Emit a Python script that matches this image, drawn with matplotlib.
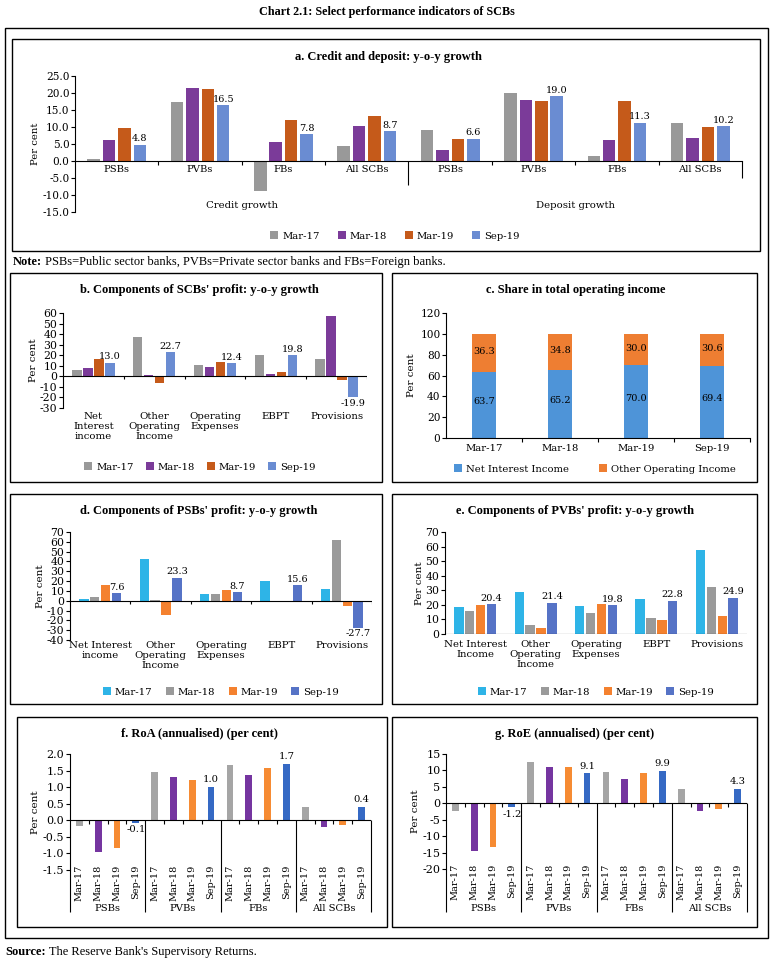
import matplotlib
matplotlib.use('Agg')
import matplotlib.pyplot as plt
import matplotlib.transforms as mtrans
from matplotlib.patches import Rectangle
from matplotlib.ticker import FormatStrFormatter
import numpy as np

plt.rcParams['font.family'] = ['DejaVu Serif']
plt.rcParams['axes.unicode_minus'] = False
TITLE_FONT = ['Liberation Serif', 'DejaVu Serif']

W, H = 773, 968

periods = ['Mar-17', 'Mar-18', 'Mar-19', 'Sep-19']
banks = ['PSBs', 'PVBs', 'FBs', 'All SCBs']

# a. credit (first 4) and deposit (last 4) growth
a_cats = banks + banks
a_mar17 = [0.7, 17.5, -8.8, 4.4, 9.2, 20.1, 1.5, 11.1]
a_mar18 = [6.1, 21.5, 5.7, 10.2, 3.3, 17.8, 6.3, 6.8]
a_mar19 = [9.6, 21.1, 12.0, 13.2, 6.5, 17.6, 17.7, 10.0]
a_sep19 = [4.8, 16.5, 7.8, 8.7, 6.6, 19.0, 11.3, 10.2]

# b. components of SCBs' profit
b_cats = ['Net\nInterest\nincome', 'Other\nOperating\nIncome', 'Operating\nExpenses', 'EBPT', 'Provisions']
b_mar17 = [6.2, 37.0, 10.9, 20.2, 16.5]
b_mar18 = [7.8, 1.0, 9.0, 2.2, 56.8]
b_mar19 = [16.5, -6.5, 13.4, 4.3, -3.4]
b_sep19 = [13.0, 22.7, 12.4, 19.8, -19.9]

# c. share in total operating income
c_nii = [63.7, 65.2, 70.0, 69.4]
c_ooi = [36.3, 34.8, 30.0, 30.6]

# d. components of PSBs' profit
d_cats = ['Net Interest\nincome', 'Other\nOperating\nIncome', 'Operating\nExpenses', 'EBPT', 'Provisions']
d_mar17 = [1.4, 42.0, 7.1, 20.0, 11.5]
d_mar18 = [3.4, 0.7, 6.4, -1.4, 62.0]
d_mar19 = [16.3, -14.2, 10.5, -1.0, -5.1]
d_sep19 = [7.6, 23.3, 8.7, 15.6, -27.7]

# e. components of PVBs' profit
e_cats = ['Net Interest\nIncome', 'Other\nOperating\nIncome', 'Operating\nExpenses', 'EBPT', 'Provisions']
e_mar17 = [18.3, 28.6, 19.3, 23.8, 57.6]
e_mar18 = [16.0, 6.3, 14.4, 11.0, 32.0]
e_mar19 = [19.6, 4.2, 20.8, 9.4, 12.5]
e_sep19 = [20.4, 21.4, 19.8, 22.8, 24.9]

# f. RoA, per bank group
f_mar17 = [-0.16, 1.46, 1.66, 0.39]
f_mar18 = [-0.95, 1.30, 1.36, -0.19]
f_mar19 = [-0.85, 1.21, 1.58, -0.13]
f_sep19 = [-0.07, 1.0, 1.7, 0.4]

# g. RoE, per bank group
g_mar17 = [-2.4, 12.6, 9.4, 4.4]
g_mar18 = [-14.4, 11.0, 7.3, -2.3]
g_mar19 = [-13.2, 11.0, 9.1, -1.7]
g_sep19 = [-1.2, 9.1, 9.9, 4.3]

ab_colors = ['#999999', '#7B3B99', '#C55A1A', '#6A8CD2']
de_colors = ['#2EB4E7', '#9A9A9A', '#F4812F', '#5673C6']
c_colors = ['#4E94D8', '#EE7E32']
fg_colors = ['#A5A5A5', '#7535A0', '#F68B33', '#3569C4']

fig = plt.figure(figsize=(W / 100, H / 100), dpi=100)
bg = fig.add_axes([0, 0, 1, 1])
bg.set_xlim(0, W)
bg.set_ylim(H, 0)
bg.axis('off')


def box(x0, y0, x1, y1, lw=1.0):
    bg.add_patch(Rectangle((x0, y0), x1 - x0, y1 - y0, fill=False, ec='black', lw=lw))


def panel_axes(x0, y0, x1, y1):
    ax = fig.add_axes([x0 / W, 1 - y1 / H, (x1 - x0) / W, (y1 - y0) / H])
    ax.patch.set_alpha(0)
    for s in ['top', 'right', 'bottom']:
        ax.spines[s].set_visible(False)
    ax.spines['left'].set_linewidth(0.8)
    ax.tick_params(axis='y', direction='out', length=3, width=0.8, labelsize=7.8, pad=1)
    return ax


def grouped(ax, series, colors, width, step):
    x = np.arange(len(series[0]))
    for j, (vals, c) in enumerate(zip(series, colors)):
        ax.bar(x + (j - 1.5) * step, vals, width, color=c, label=periods[j], zorder=2)
    return x


def sep_labels(ax, xpos, vals, fmt, size=7, off=1):
    for xx, v in zip(xpos, vals):
        ax.annotate(fmt % v, (xx, v), xytext=(0, off if v >= 0 else -off),
                    textcoords='offset points', ha='center',
                    va='bottom' if v >= 0 else 'top', fontsize=size)


def legend(ax, cx, cy, size=7.2, colsp=1.2, ncol=4):
    ax.legend(loc='center', bbox_to_anchor=(cx / W, 1 - cy / H), bbox_transform=fig.transFigure,
              ncol=ncol, frameon=False, fontsize=size, handlelength=0.8, handleheight=0.8,
              handletextpad=0.4, columnspacing=colsp, borderaxespad=0)


# frames and texts
bg.text(W / 2, 12, 'Chart 2.1: Select performance indicators of SCBs', ha='center', va='center',
        fontsize=8.7, fontweight='bold', family=TITLE_FONT)
box(5, 28, 768, 938)
box(12, 39, 760, 251)
box(10, 273, 382, 482)
box(392, 273, 757, 482)
box(10, 494, 382, 704)
box(392, 494, 757, 704)
box(17, 717, 387, 927)
box(392, 717, 757, 927)

t1 = bg.text(13, 262, 'Note:', fontsize=9, fontweight='bold', va='center', family=TITLE_FONT)
bg.annotate(' PSBs=Public sector banks, PVBs=Private sector banks and FBs=Foreign banks.',
            xy=(1, 0), xycoords=t1, va='bottom', fontsize=9, family=TITLE_FONT)
t2 = bg.text(5, 952, 'Source:', fontsize=9, fontweight='bold', va='center', family=TITLE_FONT)
bg.annotate(" The Reserve Bank's Supervisory Returns.", xy=(1, 0), xycoords=t2, va='bottom',
            fontsize=9, family=TITLE_FONT)

titles = [
    (388, 57, 'a. Credit and deposit: y-o-y growth'),
    (199, 290, "b. Components of SCBs' profit: y-o-y growth"),
    (576, 290, 'c. Share in total operating income'),
    (199, 511, "d. Components of PSBs' profit: y-o-y growth"),
    (575, 511, "e. Components of PVBs' profit: y-o-y growth"),
    (199, 734, 'f. RoA (annualised) (per cent)'),
    (575, 734, 'g. RoE (annualised) (per cent)'),
]
for tx, ty, tt in titles:
    bg.text(tx, ty, tt, ha='center', va='center', fontsize=9, fontweight='bold', family=TITLE_FONT)

# ---- a
ax = panel_axes(75, 76, 742, 212)
x = grouped(ax, [a_mar17, a_mar18, a_mar19, a_sep19], ab_colors, 0.15, 0.185)
ax.set_xlim(-0.5, 7.5)
ax.set_ylim(-15, 25)
ax.set_yticks(np.arange(-15, 26, 5))
ax.yaxis.set_major_formatter(FormatStrFormatter('%.1f'))
ax.tick_params(axis='y', labelsize=7.6)
ax.spines['bottom'].set_visible(True)
ax.spines['bottom'].set_position(('data', 0))
ax.spines['bottom'].set_linewidth(0.8)
ax.set_xticks([0.5, 1.5, 2.5, 4.5, 5.5, 6.5])
ax.set_xticklabels([])
ax.set_xticks(x, minor=True)
ax.set_xticklabels(a_cats, minor=True)
ax.tick_params(axis='x', which='major', length=3, width=0.8)
ax.tick_params(axis='x', which='minor', length=0, labelsize=7.2, pad=3)
ax.vlines([3.5, 7.5], 0, [-7, -5], color='black', lw=0.8, clip_on=False)
ax.text(1.5, -13.2, 'Credit growth', ha='center', va='center', fontsize=7.3)
ax.text(5.5, -13.2, 'Deposit growth', ha='center', va='center', fontsize=7.3)
ax.set_ylabel('Per cent', fontsize=7.2, labelpad=2)
sep_labels(ax, x + 1.5 * 0.185, a_sep19, '%.1f', size=7)
legend(ax, 395, 236, size=7.2, colsp=1.8)


def component_panel(box_px, series, colors, cats, ylim, step, tick_pad):
    ax = panel_axes(*box_px)
    x = grouped(ax, series, colors, 0.155, 0.18)
    ax.set_xlim(-0.5, len(cats) - 0.5)
    ax.set_ylim(*ylim)
    ax.set_yticks(np.arange(ylim[0], ylim[1] + 1, step))
    ax.axhline(0, color='black', lw=0.8, zorder=3)
    tl = (ylim[1] - ylim[0]) * 0.03
    ax.vlines(np.arange(0.5, len(cats), 1), 0, -tl, color='black', lw=0.8, zorder=3)
    ax.set_xticks(x)
    ax.set_xticklabels(cats, fontsize=7.3, linespacing=1.15)
    ax.tick_params(axis='x', length=0, pad=tick_pad)
    ax.set_ylabel('Per cent', fontsize=7.5, labelpad=1)
    sep_labels(ax, x + 1.5 * 0.18, series[3], '%.1f', size=7)
    return ax


ax = component_panel((63, 313, 367, 408), [b_mar17, b_mar18, b_mar19, b_sep19], ab_colors,
                     b_cats, (-30, 60), 10, 3)
legend(ax, 200, 467)

ax = component_panel((70, 532, 372, 640), [d_mar17, d_mar18, d_mar19, d_sep19], de_colors,
                     d_cats, (-40, 70), 10, 1)
legend(ax, 221, 692, size=7.3, colsp=1.3)

ax = component_panel((445, 532, 747, 634), [e_mar17, e_mar18, e_mar19, e_sep19], de_colors,
                     e_cats, (0, 70), 10, 4)
legend(ax, 596, 692, size=7.3, colsp=1.3)

# ---- c
ax = panel_axes(446, 313, 750, 438)
xc = np.arange(len(periods))
ax.bar(xc, c_nii, 0.32, color=c_colors[0], label='Net Interest Income', zorder=2)
ax.bar(xc, c_ooi, 0.32, bottom=c_nii, color=c_colors[1], label='Other Operating Income', zorder=2)
for xx, v1, v2 in zip(xc, c_nii, c_ooi):
    ax.text(xx, v1 / 2 + 3, '%.1f' % v1, ha='center', va='center', fontsize=7)
    ax.text(xx, v1 + v2 / 2 + 1, '%.1f' % v2, ha='center', va='center', fontsize=7)
ax.set_xlim(-0.5, 3.5)
ax.set_ylim(0, 120)
ax.set_yticks(np.arange(0, 121, 20))
ax.spines['bottom'].set_visible(True)
ax.spines['bottom'].set_linewidth(0.8)
ax.set_xticks(np.arange(0.5, 4, 1))
ax.set_xticklabels([])
ax.set_xticks(xc, minor=True)
ax.set_xticklabels(periods, minor=True)
ax.tick_params(axis='x', which='major', length=3, width=0.8)
ax.tick_params(axis='x', which='minor', length=0, labelsize=7.2, pad=4)
ax.tick_params(axis='y', labelsize=7.6)
ax.set_ylabel('Per cent', fontsize=7.5, labelpad=3)
legend(ax, 595, 469, size=7.2, colsp=3.0, ncol=2)


def return_panel(box_px, series, ylim, step, fmt, bottom_px):
    x0, y0, x1, y1 = box_px
    ax = panel_axes(*box_px)
    n = len(banks) * len(periods)
    xs = np.arange(n)
    for j, vals in enumerate(series):
        ax.bar(xs[j::4], vals, 0.36, color=fg_colors[j], zorder=2)
    ax.set_xlim(-0.5, n - 0.5)
    ax.set_ylim(*ylim)
    ax.set_yticks(np.arange(ylim[0], ylim[1] + step / 2, step))
    ax.yaxis.set_major_formatter(FormatStrFormatter(fmt))
    ax.tick_params(axis='y', labelsize=8)
    ax.set_ylabel('Per cent', fontsize=7.5, labelpad=2)
    ax.axhline(0, color='black', lw=0.8, zorder=3)
    tr = mtrans.blended_transform_factory(ax.transData, ax.transAxes)
    zero = (0 - ylim[0]) / (ylim[1] - ylim[0])
    low = -(bottom_px - y1) / (y1 - y0)
    small = [b + 0.5 for b in range(n - 1) if (b + 1) % 4 != 0]
    ax.vlines(small, zero, zero - 0.03, color='black', lw=0.8, transform=tr, clip_on=False)
    ax.vlines(np.arange(3.5, n, 4), zero, low, color='black', lw=0.8, transform=tr, clip_on=False)
    ax.vlines([-0.5], low, 0, color='black', lw=0.8, transform=tr, clip_on=False)
    ax.set_xticks(xs)
    ax.set_xticklabels(periods * len(banks), rotation=90, fontsize=7)
    ax.tick_params(axis='x', length=0, pad=-4)
    for g, name in enumerate(banks):
        ax.text(g * 4 + 1.5, low + 0.03, name, ha='center', va='center', fontsize=7.2, transform=tr)
    sep_labels(ax, xs[3::4], series[3], '%.1f', size=7.2, off=2)
    return ax


return_panel((70, 754, 371, 870), [f_mar17, f_mar18, f_mar19, f_sep19], (-1.5, 2.0), 0.5, '%.1f', 912)
return_panel((446, 754, 747, 869), [g_mar17, g_mar18, g_mar19, g_sep19], (-20, 15), 5, '%d', 912)

fig.savefig('out.png', dpi=100)
